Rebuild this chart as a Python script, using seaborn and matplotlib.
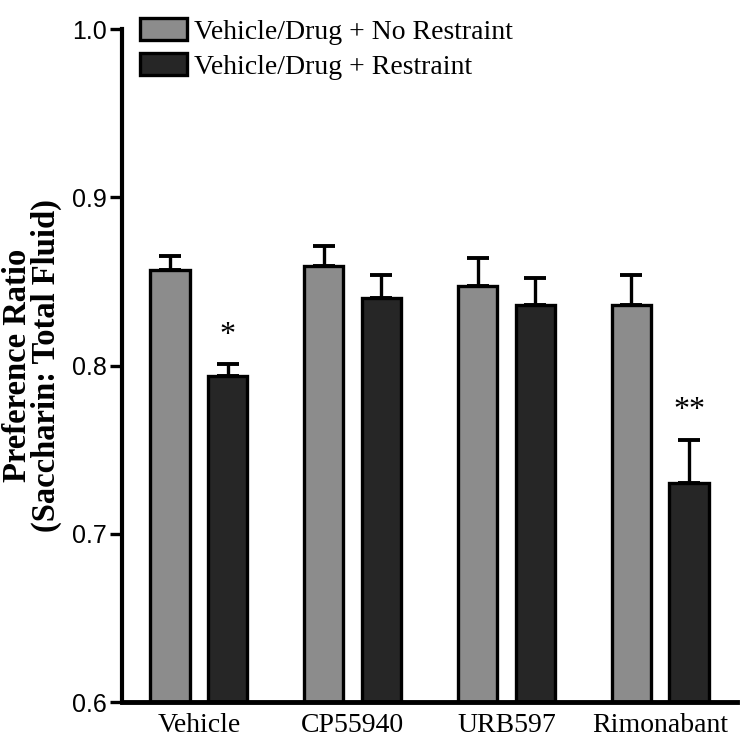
import numpy as np
import pandas as pd
import matplotlib
matplotlib.use("Agg")
import matplotlib.pyplot as plt
import seaborn as sns

# values
drugs = ["Vehicle", "CP55940", "URB597", "Rimonabant"]
conditions = ["Vehicle/Drug + No Restraint", "Vehicle/Drug + Restraint"]
no_restraint = [0.857, 0.859, 0.847, 0.836]
no_restraint_sem = [0.008, 0.012, 0.017, 0.018]
restraint = [0.794, 0.840, 0.836, 0.730]
restraint_sem = [0.007, 0.014, 0.016, 0.026]
stars = ["*", "", "", "**"]
colors = ["#8c8c8c", "#262626"]

df = pd.DataFrame({
    "drug": drugs * 2,
    "condition": [conditions[0]] * 4 + [conditions[1]] * 4,
    "ratio": no_restraint + restraint,
})

sns.set_style("ticks")
plt.rcParams["font.family"] = ["Liberation Serif", "DejaVu Serif"]
plt.rcParams.update({"text.color": "black", "axes.labelcolor": "black",
                     "xtick.color": "black", "ytick.color": "black"})

fig = plt.figure(figsize=(7.5, 7.5), dpi=100)
ax = fig.add_axes([0.1627, 0.064, 0.82, 0.8973])

sns.barplot(data=df, x="drug", y="ratio", hue="condition", order=drugs,
            hue_order=conditions, palette=colors, errorbar=None,
            width=0.75, gap=0.32, edgecolor="black", linewidth=2.4,
            ax=ax, zorder=2)

# error bars (upper only) at the bar centres from seaborn
sems = [no_restraint_sem, restraint_sem]
means = [no_restraint, restraint]
for i, (cont, m, s) in enumerate(zip(ax.containers, means, sems)):
    xs = [b.get_x() + b.get_width() / 2 for b in cont]
    ax.errorbar(xs, m, yerr=[np.zeros(len(s)), s], fmt="none", ecolor="black",
                elinewidth=2.4, capsize=8, capthick=2.8, zorder=1)
    if i == 1:
        for x, mm, ss, st in zip(xs, m, s, stars):
            if st:
                ax.text(x, mm + ss + 0.017, st, ha="center", va="center",
                        fontsize=23, color="black")

ax.set_xlim(-0.5, 3.5)
ax.set_ylim(0.6, 1.0)
ax.set_yticks([0.6, 0.7, 0.8, 0.9, 1.0])
ax.set_yticklabels(["0.6", "0.7", "0.8", "0.9", "1.0"],
                   family="Liberation Sans", fontsize=18)
ax.tick_params(axis="y", length=9, width=2.4, pad=2, color="black",
               labelcolor="black")
ax.tick_params(axis="x", length=0, pad=8, labelsize=20, labelcolor="black")
ax.set_xlabel("")
ax.set_ylabel("Preference Ratio\n(Saccharin: Total Fluid)", fontsize=23.5,
              fontweight="bold", linespacing=0.9, color="black")
ax.yaxis.set_label_coords(-0.098, 0.5)

sns.despine(ax=ax)
ax.spines["left"].set_linewidth(3)
ax.spines["left"].set_color("black")
ax.spines["bottom"].set_linewidth(3.5)
ax.spines["bottom"].set_color("black")

handles, labels = ax.get_legend_handles_labels()
leg = ax.legend(handles, labels, loc="upper left", bbox_to_anchor=(0.029, 1.016),
                frameon=False, fontsize=20, handlelength=1.7, handleheight=0.83,
                handletextpad=0.25, labelspacing=0.3, borderpad=0, borderaxespad=0)
for t in leg.get_texts():
    t.set_color("black")

fig.savefig("out.png", dpi=100)
